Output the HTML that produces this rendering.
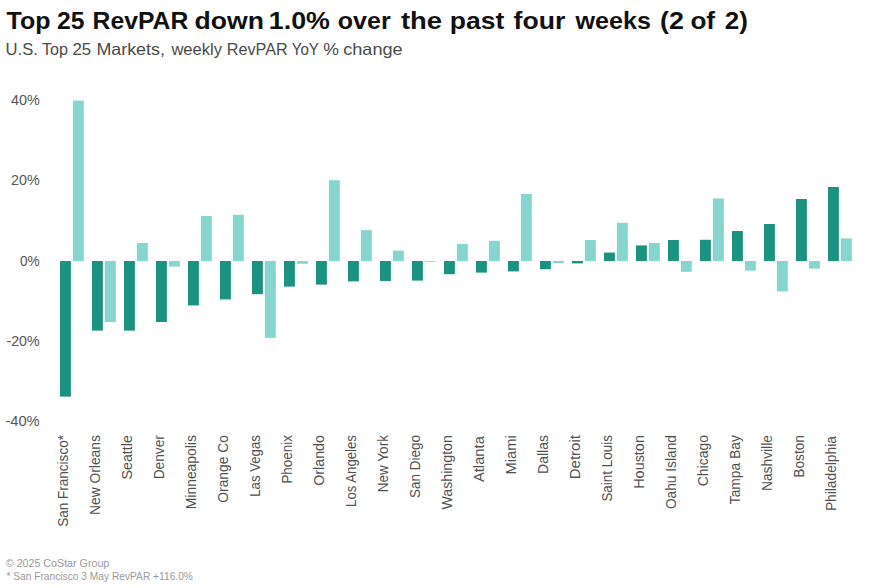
<!DOCTYPE html>
<html><head><meta charset="utf-8">
<style>
html,body{margin:0;padding:0;background:#fff;}
svg{display:block;}
text{font-family:"Liberation Sans",sans-serif;}
.t{font-weight:bold;font-size:24px;fill:#111;}
.st{font-size:16.5px;fill:#4a4a4a;}
.yl{font-size:14px;fill:#555;}
.xl{font-size:14px;fill:#505050;}
.ft{font-size:11px;fill:#999;}
</style></head>
<body>
<svg width="869" height="588" viewBox="0 0 869 588">
<rect width="869" height="588" fill="#fff"/>
<text x="6.60" y="29.1" class="t" textLength="43.90" lengthAdjust="spacingAndGlyphs">Top</text>
<text x="57.00" y="29.1" class="t" textLength="27.50" lengthAdjust="spacingAndGlyphs">25</text>
<text x="92.60" y="29.1" class="t" textLength="95.70" lengthAdjust="spacingAndGlyphs">RevPAR</text>
<text x="194.60" y="29.1" class="t" textLength="69.30" lengthAdjust="spacingAndGlyphs">down</text>
<text x="268.80" y="29.1" class="t" textLength="61.10" lengthAdjust="spacingAndGlyphs">1.0%</text>
<text x="337.80" y="29.1" class="t" textLength="52.90" lengthAdjust="spacingAndGlyphs">over</text>
<text x="401.00" y="29.1" class="t" textLength="41.10" lengthAdjust="spacingAndGlyphs">the</text>
<text x="449.80" y="29.1" class="t" textLength="54.50" lengthAdjust="spacingAndGlyphs">past</text>
<text x="513.60" y="29.1" class="t" textLength="51.70" lengthAdjust="spacingAndGlyphs">four</text>
<text x="575.60" y="29.1" class="t" textLength="75.30" lengthAdjust="spacingAndGlyphs">weeks</text>
<text x="660.00" y="29.1" class="t" textLength="23.90" lengthAdjust="spacingAndGlyphs">(2</text>
<text x="690.40" y="29.1" class="t" textLength="24.70" lengthAdjust="spacingAndGlyphs">of</text>
<text x="724.80" y="29.1" class="t" textLength="23.10" lengthAdjust="spacingAndGlyphs">2)</text>
<text x="5.60" y="54.9" class="st" textLength="32.30" lengthAdjust="spacingAndGlyphs">U.S.</text>
<text x="42.00" y="54.9" class="st" textLength="26.10" lengthAdjust="spacingAndGlyphs">Top</text>
<text x="72.40" y="54.9" class="st" textLength="18.70" lengthAdjust="spacingAndGlyphs">25</text>
<text x="96.40" y="54.9" class="st" textLength="68.50" lengthAdjust="spacingAndGlyphs">Markets,</text>
<text x="171.40" y="54.9" class="st" textLength="50.70" lengthAdjust="spacingAndGlyphs">weekly</text>
<text x="226.80" y="54.9" class="st" textLength="60.90" lengthAdjust="spacingAndGlyphs">RevPAR</text>
<text x="291.80" y="54.9" class="st" textLength="27.10" lengthAdjust="spacingAndGlyphs">YoY</text>
<text x="323.20" y="54.9" class="st" textLength="15.70" lengthAdjust="spacingAndGlyphs">%</text>
<text x="343.20" y="54.9" class="st" textLength="59.50" lengthAdjust="spacingAndGlyphs">change</text>
<text x="39.7" y="104.90" text-anchor="end" class="yl" textLength="28.80" lengthAdjust="spacingAndGlyphs">40%</text>
<text x="39.7" y="184.90" text-anchor="end" class="yl" textLength="28.70" lengthAdjust="spacingAndGlyphs">20%</text>
<text x="39.7" y="266.00" text-anchor="end" class="yl" textLength="19.80" lengthAdjust="spacingAndGlyphs">0%</text>
<text x="39.7" y="346.10" text-anchor="end" class="yl" textLength="33.30" lengthAdjust="spacingAndGlyphs">-20%</text>
<text x="39.7" y="426.30" text-anchor="end" class="yl" textLength="34.30" lengthAdjust="spacingAndGlyphs">-40%</text>
<rect x="60.00" y="261.00" width="10.9" height="135.60" fill="#1b9380"/>
<rect x="72.90" y="100.60" width="10.9" height="160.40" fill="#86d5cf"/>
<rect x="92.00" y="261.00" width="10.9" height="69.60" fill="#1b9380"/>
<rect x="104.90" y="261.00" width="10.9" height="61.00" fill="#86d5cf"/>
<rect x="124.00" y="261.00" width="10.9" height="69.60" fill="#1b9380"/>
<rect x="136.90" y="243.00" width="10.9" height="18.00" fill="#86d5cf"/>
<rect x="156.00" y="261.00" width="10.9" height="61.00" fill="#1b9380"/>
<rect x="168.90" y="261.00" width="10.9" height="5.60" fill="#86d5cf"/>
<rect x="188.00" y="261.00" width="10.9" height="44.40" fill="#1b9380"/>
<rect x="200.90" y="216.00" width="10.9" height="45.00" fill="#86d5cf"/>
<rect x="220.00" y="261.00" width="10.9" height="38.40" fill="#1b9380"/>
<rect x="232.90" y="214.80" width="10.9" height="46.20" fill="#86d5cf"/>
<rect x="252.00" y="261.00" width="10.9" height="33.20" fill="#1b9380"/>
<rect x="264.90" y="261.00" width="10.9" height="76.80" fill="#86d5cf"/>
<rect x="284.00" y="261.00" width="10.9" height="25.60" fill="#1b9380"/>
<rect x="296.90" y="261.00" width="10.9" height="2.80" fill="#86d5cf"/>
<rect x="316.00" y="261.00" width="10.9" height="23.60" fill="#1b9380"/>
<rect x="328.90" y="180.20" width="10.9" height="80.80" fill="#86d5cf"/>
<rect x="348.00" y="261.00" width="10.9" height="20.40" fill="#1b9380"/>
<rect x="360.90" y="230.20" width="10.9" height="30.80" fill="#86d5cf"/>
<rect x="380.00" y="261.00" width="10.9" height="20.00" fill="#1b9380"/>
<rect x="392.90" y="250.60" width="10.9" height="10.40" fill="#86d5cf"/>
<rect x="412.00" y="261.00" width="10.9" height="19.60" fill="#1b9380"/>
<rect x="424.90" y="261.00" width="10.9" height="0.80" fill="#86d5cf"/>
<rect x="444.00" y="261.00" width="10.9" height="13.20" fill="#1b9380"/>
<rect x="456.90" y="244.00" width="10.9" height="17.00" fill="#86d5cf"/>
<rect x="476.00" y="261.00" width="10.9" height="11.60" fill="#1b9380"/>
<rect x="488.90" y="240.80" width="10.9" height="20.20" fill="#86d5cf"/>
<rect x="508.00" y="261.00" width="10.9" height="10.40" fill="#1b9380"/>
<rect x="520.90" y="193.80" width="10.9" height="67.20" fill="#86d5cf"/>
<rect x="540.00" y="261.00" width="10.9" height="8.20" fill="#1b9380"/>
<rect x="552.90" y="261.00" width="10.9" height="2.00" fill="#86d5cf"/>
<rect x="572.00" y="261.00" width="10.9" height="2.40" fill="#1b9380"/>
<rect x="584.90" y="240.00" width="10.9" height="21.00" fill="#86d5cf"/>
<rect x="604.00" y="252.60" width="10.9" height="8.40" fill="#1b9380"/>
<rect x="616.90" y="222.80" width="10.9" height="38.20" fill="#86d5cf"/>
<rect x="636.00" y="245.40" width="10.9" height="15.60" fill="#1b9380"/>
<rect x="648.90" y="243.00" width="10.9" height="18.00" fill="#86d5cf"/>
<rect x="668.00" y="240.00" width="10.9" height="21.00" fill="#1b9380"/>
<rect x="680.90" y="261.00" width="10.9" height="10.80" fill="#86d5cf"/>
<rect x="700.00" y="239.80" width="10.9" height="21.20" fill="#1b9380"/>
<rect x="712.90" y="198.40" width="10.9" height="62.60" fill="#86d5cf"/>
<rect x="732.00" y="231.00" width="10.9" height="30.00" fill="#1b9380"/>
<rect x="744.90" y="261.00" width="10.9" height="9.60" fill="#86d5cf"/>
<rect x="764.00" y="224.00" width="10.9" height="37.00" fill="#1b9380"/>
<rect x="776.90" y="261.00" width="10.9" height="30.40" fill="#86d5cf"/>
<rect x="796.00" y="199.00" width="10.9" height="62.00" fill="#1b9380"/>
<rect x="808.90" y="261.00" width="10.9" height="7.60" fill="#86d5cf"/>
<rect x="828.00" y="187.00" width="10.9" height="74.00" fill="#1b9380"/>
<rect x="840.90" y="238.40" width="10.9" height="22.60" fill="#86d5cf"/>
<text transform="translate(68.20,435.10) rotate(-90)" text-anchor="end" class="xl" textLength="91.60" lengthAdjust="spacingAndGlyphs">San Francisco*</text>
<text transform="translate(100.20,435.10) rotate(-90)" text-anchor="end" class="xl" textLength="79.90" lengthAdjust="spacingAndGlyphs">New Orleans</text>
<text transform="translate(132.20,435.10) rotate(-90)" text-anchor="end" class="xl" textLength="44.50" lengthAdjust="spacingAndGlyphs">Seattle</text>
<text transform="translate(164.20,435.10) rotate(-90)" text-anchor="end" class="xl" textLength="44.20" lengthAdjust="spacingAndGlyphs">Denver</text>
<text transform="translate(196.20,435.10) rotate(-90)" text-anchor="end" class="xl" textLength="74.10" lengthAdjust="spacingAndGlyphs">Minneapolis</text>
<text transform="translate(228.20,435.10) rotate(-90)" text-anchor="end" class="xl" textLength="67.60" lengthAdjust="spacingAndGlyphs">Orange Co</text>
<text transform="translate(260.20,435.10) rotate(-90)" text-anchor="end" class="xl" textLength="61.70" lengthAdjust="spacingAndGlyphs">Las Vegas</text>
<text transform="translate(292.20,435.10) rotate(-90)" text-anchor="end" class="xl" textLength="48.50" lengthAdjust="spacingAndGlyphs">Phoenix</text>
<text transform="translate(324.20,435.10) rotate(-90)" text-anchor="end" class="xl" textLength="50.60" lengthAdjust="spacingAndGlyphs">Orlando</text>
<text transform="translate(356.20,435.10) rotate(-90)" text-anchor="end" class="xl" textLength="71.80" lengthAdjust="spacingAndGlyphs">Los Angeles</text>
<text transform="translate(388.20,435.10) rotate(-90)" text-anchor="end" class="xl" textLength="57.10" lengthAdjust="spacingAndGlyphs">New York</text>
<text transform="translate(420.20,435.10) rotate(-90)" text-anchor="end" class="xl" textLength="62.80" lengthAdjust="spacingAndGlyphs">San Diego</text>
<text transform="translate(452.20,435.10) rotate(-90)" text-anchor="end" class="xl" textLength="74.50" lengthAdjust="spacingAndGlyphs">Washington</text>
<text transform="translate(484.20,436.10) rotate(-90)" text-anchor="end" class="xl" textLength="46.00" lengthAdjust="spacingAndGlyphs">Atlanta</text>
<text transform="translate(516.20,435.10) rotate(-90)" text-anchor="end" class="xl" textLength="39.40" lengthAdjust="spacingAndGlyphs">Miami</text>
<text transform="translate(548.20,435.10) rotate(-90)" text-anchor="end" class="xl" textLength="38.80" lengthAdjust="spacingAndGlyphs">Dallas</text>
<text transform="translate(580.20,435.10) rotate(-90)" text-anchor="end" class="xl" textLength="44.20" lengthAdjust="spacingAndGlyphs">Detroit</text>
<text transform="translate(612.20,435.10) rotate(-90)" text-anchor="end" class="xl" textLength="66.50" lengthAdjust="spacingAndGlyphs">Saint Louis</text>
<text transform="translate(644.20,435.10) rotate(-90)" text-anchor="end" class="xl" textLength="53.70" lengthAdjust="spacingAndGlyphs">Houston</text>
<text transform="translate(676.20,435.10) rotate(-90)" text-anchor="end" class="xl" textLength="74.00" lengthAdjust="spacingAndGlyphs">Oahu Island</text>
<text transform="translate(708.20,435.10) rotate(-90)" text-anchor="end" class="xl" textLength="51.10" lengthAdjust="spacingAndGlyphs">Chicago</text>
<text transform="translate(740.20,435.10) rotate(-90)" text-anchor="end" class="xl" textLength="69.20" lengthAdjust="spacingAndGlyphs">Tampa Bay</text>
<text transform="translate(772.20,435.10) rotate(-90)" text-anchor="end" class="xl" textLength="55.90" lengthAdjust="spacingAndGlyphs">Nashville</text>
<text transform="translate(804.20,435.10) rotate(-90)" text-anchor="end" class="xl" textLength="42.60" lengthAdjust="spacingAndGlyphs">Boston</text>
<text transform="translate(836.20,436.10) rotate(-90)" text-anchor="end" class="xl" textLength="75.00" lengthAdjust="spacingAndGlyphs">Philadelphia</text>
<text x="5.8" y="567.3" class="ft" textLength="103.5" lengthAdjust="spacingAndGlyphs">© 2025 CoStar Group</text>
<text x="6.4" y="580.4" class="ft" textLength="186.5" lengthAdjust="spacingAndGlyphs">* San Francisco 3 May RevPAR +116.0%</text>
</svg>
</body></html>
